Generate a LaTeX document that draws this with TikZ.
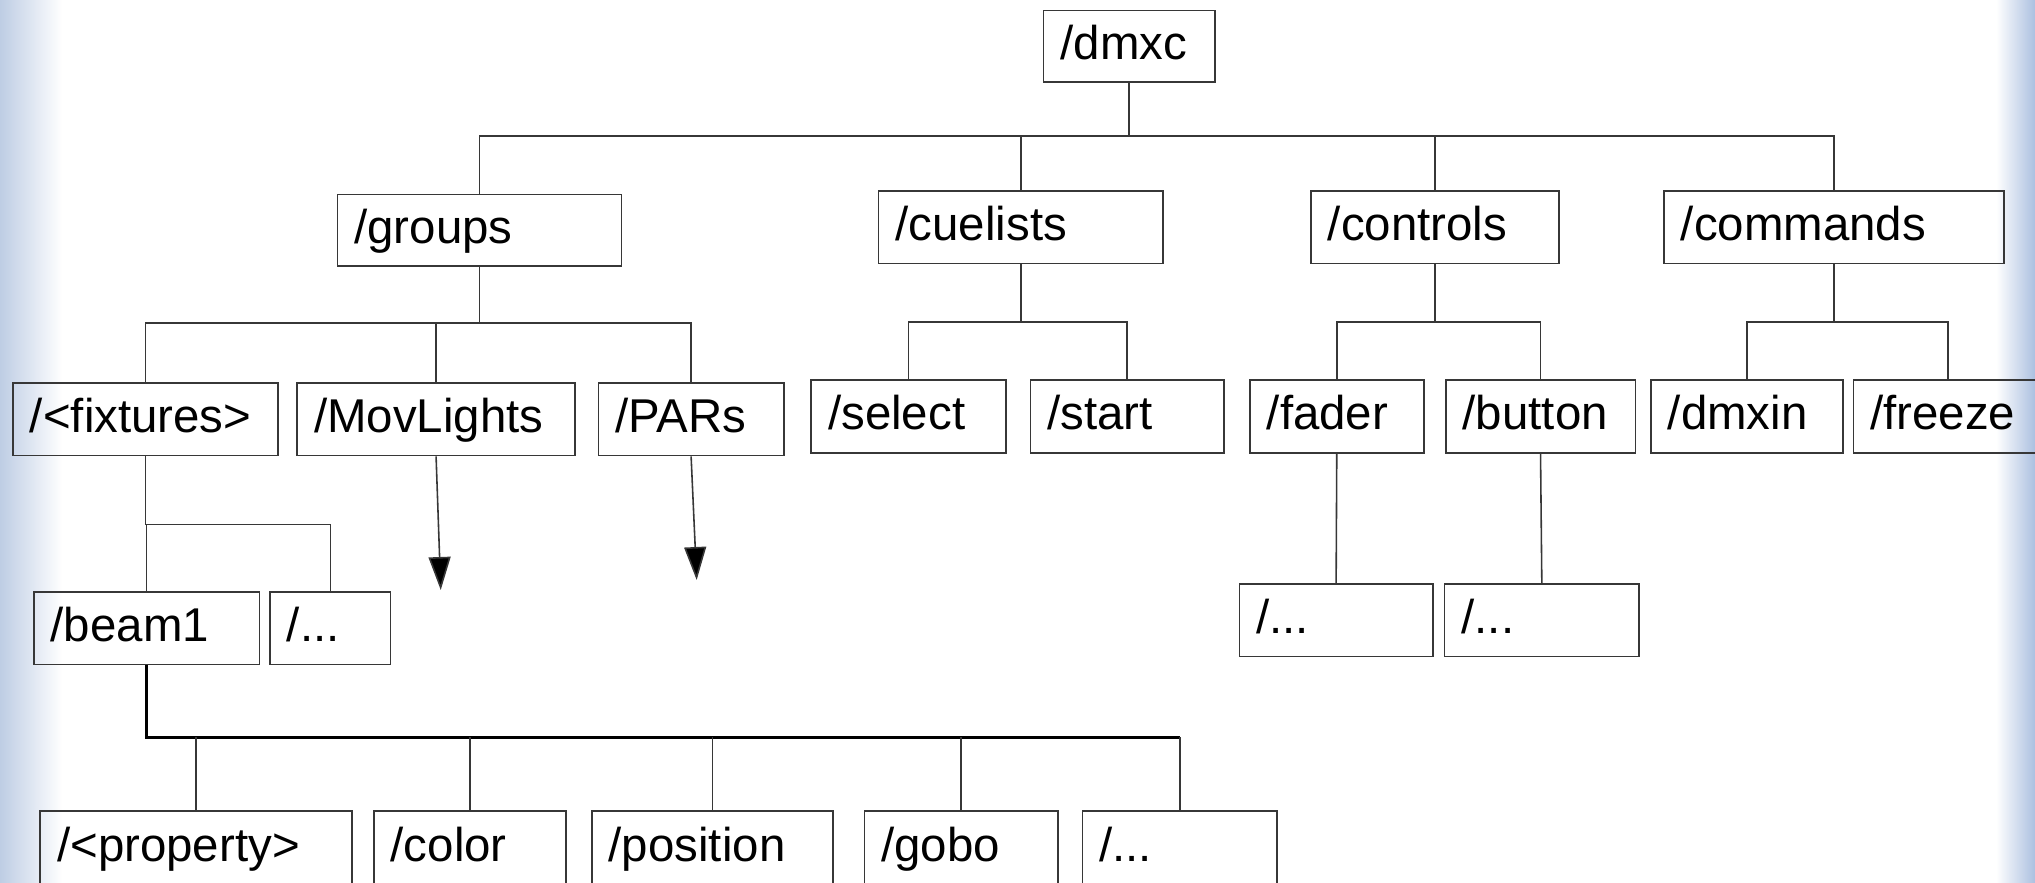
\documentclass[tikz,border=0pt]{standalone}
\usepackage{fontspec}
\setmainfont{Liberation Sans}
\usetikzlibrary{arrows.meta}
\definecolor{edgeblue}{RGB}{190,205,228}
\definecolor{edgeblue2}{RGB}{172,192,224}
\definecolor{linegray}{RGB}{55,55,55}
\newcommand\treebox[6]{%
  \pgfmathsetmacro\tbw{(#3-#2)*0.012978-0.34}%
  \pgfmathsetmacro\tbh{(#5-#4)*0.012978}%
  \node[box, text width=\tbw cm, minimum height=\tbh cm] (#1) at ({(#2+#3)/2},{(#4+#5)/2}) {#6};}
\begin{document}
\begin{tikzpicture}[x=0.012978cm, y=-0.012978cm,
  box/.style={draw=linegray, line width=0.45pt, inner xsep=0.17cm, inner ysep=0pt,
    align=left, text height=0.75em, text depth=0pt,
    font=\fontsize{13.5pt}{16pt}\selectfont},
  conn/.style={draw=linegray, line width=0.45pt},
  thickconn/.style={draw=black, line width=0.9pt},
  arr/.style={draw=linegray, line width=0.45pt, -{Triangle[length=0.33cm, width=0.22cm, fill=black]}}]
\useasboundingbox (0,0) rectangle (1568,680);
\clip (0,0) rectangle (1568,680);
\shade[left color=edgeblue, right color=white] (0,0) rectangle (48,680);
\shade[left color=white, right color=edgeblue2] (1538,0) rectangle (1568,680);
% level 0
\treebox{dmxc}{804}{936}{8}{63}{/dmxc}
% level 1
\treebox{groups}{260}{479}{150}{205}{/groups}
\treebox{cuelists}{677}{896}{147}{203}{/cuelists}
\treebox{controls}{1010}{1201}{147}{203}{/controls}
\treebox{commands}{1282}{1544}{147}{203}{/commands}
% level 2
\treebox{fixtures}{10}{214}{295}{351}{/<fixtures>}
\treebox{movlights}{229}{443}{295}{351}{/MovLights}
\treebox{pars}{461}{604}{295}{351}{/PARs}
\treebox{select}{625}{775}{293}{349}{/select}
\treebox{start}{794}{943}{293}{349}{/start}
\treebox{fader}{963}{1097}{293}{349}{/fader}
\treebox{button}{1114}{1260}{293}{349}{/button}
\treebox{dmxin}{1272}{1420}{293}{349}{/dmxin}
\treebox{freeze}{1428}{1574}{293}{349}{/freeze}
% level 3
\treebox{beam}{26}{200}{456}{512}{/beam1}
\treebox{fixmore}{208}{301}{456}{512}{/...}
\treebox{fadermore}{955}{1104}{450}{506}{/...}
\treebox{buttonmore}{1113}{1263}{450}{506}{/...}
% level 4
\treebox{property}{31}{271}{625}{682}{/<property>}
\treebox{color}{288}{436}{625}{682}{/color}
\treebox{position}{456}{642}{625}{682}{/position}
\treebox{gobo}{666}{815}{625}{682}{/gobo}
\treebox{propmore}{834}{984}{625}{682}{/...}
% connectors
\foreach \c in {groups,cuelists,controls,commands}
  \draw[conn] (dmxc.south) -- (dmxc.south |- 0,105) -| (\c.north);
\foreach \c in {fixtures,movlights,pars}
  \draw[conn] (groups.south) -- (groups.south |- 0,249) -| (\c.north);
\foreach \c in {select,start}
  \draw[conn] (cuelists.south) -- (cuelists.south |- 0,248) -| (\c.north);
\foreach \c in {fader,button}
  \draw[conn] (controls.south) -- (controls.south |- 0,248) -| (\c.north);
\foreach \c in {dmxin,freeze}
  \draw[conn] (commands.south) -- (commands.south |- 0,248) -| (\c.north);
\foreach \c in {beam,fixmore}
  \draw[conn] (fixtures.south) -- (fixtures.south |- 0,404) -| (\c.north);
\draw[conn] (fader.south) -- (fadermore.north);
\draw[conn] (button.south) -- (buttonmore.north);
\draw[thickconn] (beam.south) -- (beam.south |- 0,568) -- (propmore.north |- 0,568);
\foreach \c in {property,color,position,gobo,propmore}
  \draw[conn] (\c.north |- 0,568) -- (\c.north);
% arrows
\coordinate (mvend) at (339.6,454.6);
\coordinate (parend) at (536.8,446.9);
\draw[arr] (movlights.south) -- (mvend);
\draw[arr] (pars.south) -- (parend);
\end{tikzpicture}
\end{document}
